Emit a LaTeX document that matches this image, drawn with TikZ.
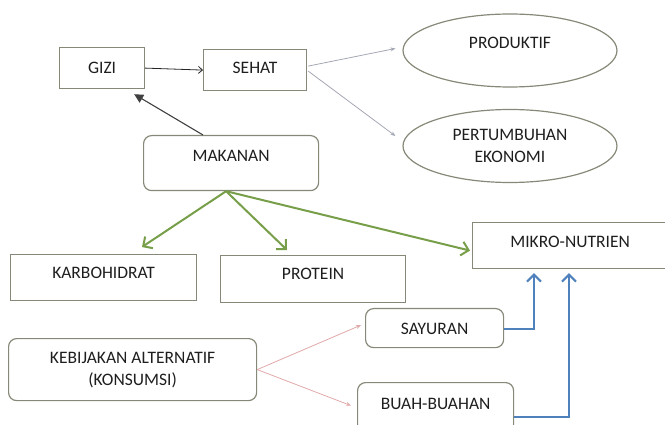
\documentclass[tikz,border=0pt]{standalone}
\usepackage{fontspec}
\setmainfont{Carlito}
\usetikzlibrary{arrows.meta,shapes.geometric,calc}
\definecolor{bordc}{RGB}{135,137,120}
\definecolor{greenc}{RGB}{119,158,72}
\definecolor{bluec}{RGB}{79,129,189}
\definecolor{grayc}{RGB}{165,168,180}
\definecolor{pinkc}{RGB}{225,170,170}
\definecolor{txtc}{RGB}{30,30,30}
\begin{document}
\begin{tikzpicture}[x=1pt,y=-1pt,
  every node/.style={font=\fontsize{17.5}{22}\selectfont, text=txtc},
  box/.style={draw=bordc, line width=1.2pt, anchor=north west, inner sep=0pt, text height=12pt, align=center},
  rbox/.style={box, rounded corners=8pt},
  mbox/.style={draw=bordc, line width=1.2pt, anchor=north west, inner sep=0pt, align=center, rounded corners=8pt},
  ell/.style={ellipse, draw=bordc, line width=1.2pt, inner sep=0pt, minimum width=214pt, minimum height=73pt, align=center},
  garrow/.style={draw=greenc, line width=2pt, -{Straight Barb[length=7pt,width=14pt,line width=2pt]}},
  barrow/.style={draw=bluec, line width=2pt, -{Straight Barb[length=7pt,width=14pt,line width=2pt]}},
  thinarrow/.style={line width=0.8pt, -{Stealth[length=5pt,width=4pt]}}
]
\useasboundingbox (0,0) rectangle (665,425);
\clip (0,0) rectangle (665,425);

\node[box, minimum width=85pt, minimum height=41pt, text depth=2pt] (gizi) at (59,47) {GIZI};
\node[box, minimum width=103pt, minimum height=41pt, text depth=5pt] (sehat) at (203,49) {SEHAT};
\node[ell, text height=12pt, text depth=15pt] (prod) at (510,50.5) {PRODUKTIF};
\node[ell] (pert) at (510,146) {PERTUMBUHAN\\EKONOMI};
\node[rbox, minimum width=175pt, minimum height=55pt, text depth=15pt] (makanan) at (143,135) {MAKANAN};
\node[box, minimum width=186pt, minimum height=46pt, text depth=10pt] (karbo) at (10,254) {KARBOHIDRAT};
\node[box, minimum width=185pt, minimum height=47pt, text depth=11pt] (protein) at (220,255) {PROTEIN};
\node[box, minimum width=195pt, minimum height=46pt, text depth=8pt] (mikro) at (472,222) {MIKRO-NUTRIEN};
\node[rbox, minimum width=138pt, minimum height=39pt, text depth=0pt] (sayur) at (365,308) {SAYURAN};
\node[rbox, minimum width=156pt, minimum height=50pt, text depth=8pt] (buah) at (357,382) {BUAH-BUAHAN};
\node[mbox, minimum width=248pt, minimum height=62pt] (kebij) at (8,338) {KEBIJAKAN ALTERNATIF\\(KONSUMSI)};

% black arrows
\draw[line width=0.8pt, black!85, -{Straight Barb[length=4pt,width=7pt]}] (gizi.east) -- (sehat.west);
\draw[line width=1.1pt, black!75, -{Triangle[length=9pt,width=9pt]}] ($(makanan.north west)+(60,0)$) -- ($(gizi.south east)+(-11,5)$);

% gray arrows from SEHAT
\draw[thinarrow, draw=grayc] ($(sehat.east)+(1,-4)$) -- ($(prod.west)+(-7,-2)$);
\draw[thinarrow, draw=grayc] ($(sehat.east)+(1,1)$) -- ($(pert.west)+(-7,-10)$);

% green arrows
\coordinate (mk) at ($(makanan.south)+(-5,0)$);
\draw[garrow] (mk) -- ($(karbo.north west)+(132,-7)$);
\draw[garrow] (mk) -- ($(protein.north west)+(67,-5)$);
\draw[garrow] (mk) -- ($(mikro.west)+(-2,5)$);

% pink arrows
\draw[thinarrow, draw=pinkc] (kebij.east) -- ($(sayur.west)+(-4,-3)$);
\draw[thinarrow, draw=pinkc] (kebij.east) -- ($(buah.west)+(-6,-2)$);

% blue elbow arrows
\draw[barrow] ($(sayur.east)+(0,1)$) -| ($(mikro.south west)+(62,4)$);
\draw[barrow] ($(buah.east)+(0,9)$) -| ($(mikro.south west)+(97,4)$);
\end{tikzpicture}
\end{document}
